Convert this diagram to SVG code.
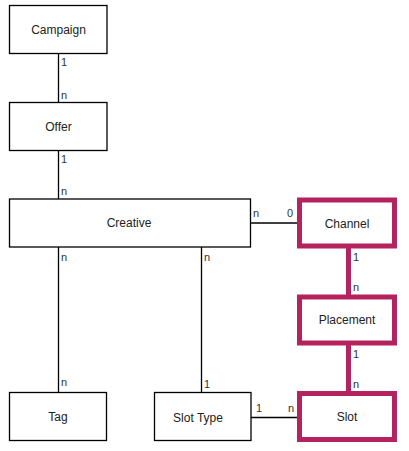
<svg xmlns="http://www.w3.org/2000/svg" width="409" height="451" viewBox="0 0 409 451">
<style>
.box{fill:#fff;stroke:#000;stroke-width:1.3}
.hbox{fill:#fff;stroke:#b5235f;stroke-width:5}
.t{font-family:"Liberation Sans",Arial,sans-serif;font-size:12px;fill:#222;text-anchor:middle;dominant-baseline:central}
.l{font-family:"Liberation Sans",Arial,sans-serif;font-size:11px;fill:#333}
.c{stroke:#000;stroke-width:1.3;fill:none}
.hc{stroke:#b5235f;stroke-width:5;fill:none}
</style>
<rect width="409" height="451" fill="#fff"/>
<g id="connectors">
<line class="c" x1="58.5" y1="53.5" x2="58.5" y2="102.5"/>
<line class="c" x1="58.5" y1="150.5" x2="58.5" y2="199"/>
<line class="c" x1="58.5" y1="247" x2="58.5" y2="392.5"/>
<line class="c" x1="201.5" y1="247" x2="201.5" y2="392.5"/>
<line class="c" x1="250.5" y1="223" x2="297" y2="223"/>
<line class="c" x1="251" y1="417.5" x2="297" y2="417.5"/>
<line class="hc" x1="348.5" y1="248" x2="348.5" y2="295"/>
<line class="hc" x1="348.5" y1="345" x2="348.5" y2="391.5"/>
<text class="l" x="61" y="66">1</text>
<text class="l" x="61" y="99">n</text>
<text class="l" x="61" y="163">1</text>
<text class="l" x="61" y="195">n</text>
<text class="l" x="61" y="261">n</text>
<text class="l" x="61" y="386">n</text>
<text class="l" x="204" y="261">n</text>
<text class="l" x="204" y="388">1</text>
<text class="l" x="253" y="217">n</text>
<text class="l" x="287" y="217">0</text>
<text class="l" x="353" y="261">1</text>
<text class="l" x="353" y="291">n</text>
<text class="l" x="353" y="358">1</text>
<text class="l" x="353" y="388">n</text>
<text class="l" x="256" y="412">1</text>
<text class="l" x="288" y="412">n</text>
</g>
<g id="campaign"><rect class="box" x="9.5" y="5.5" width="97.5" height="48"/><text class="t" x="58.5" y="29.5">Campaign</text></g>
<g id="offer"><rect class="box" x="9.5" y="102.5" width="97.5" height="48"/><text class="t" x="58.5" y="126.5">Offer</text></g>
<g id="creative"><rect class="box" x="9.5" y="199" width="241" height="48"/><text class="t" x="129" y="223">Creative</text></g>
<g id="channel"><rect class="hbox" x="299.5" y="200" width="95" height="46"/><text class="t" x="347" y="223.5">Channel</text></g>
<g id="placement"><rect class="hbox" x="299.5" y="297" width="95" height="46"/><text class="t" x="347" y="320">Placement</text></g>
<g id="tag"><rect class="box" x="9.5" y="392.5" width="97" height="48"/><text class="t" x="58" y="416.5">Tag</text></g>
<g id="slottype"><rect class="box" x="154.5" y="392.5" width="96.5" height="48"/><text class="t" x="198" y="417.5">Slot Type</text></g>
<g id="slot"><rect class="hbox" x="299.5" y="393.5" width="95" height="46"/><text class="t" x="347" y="416.5">Slot</text></g>
</svg>
